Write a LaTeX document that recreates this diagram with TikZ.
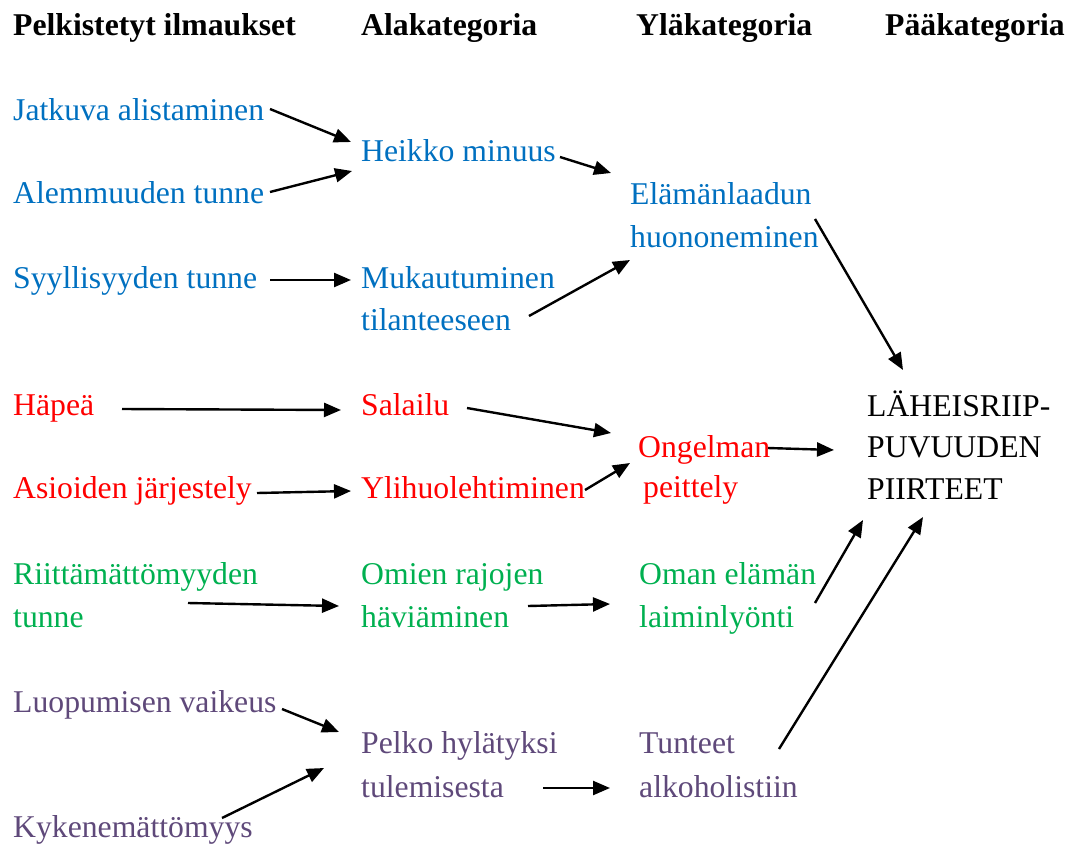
\documentclass[tikz,border=0pt]{standalone}
\usepackage{fontspec}
\setmainfont{Liberation Serif}
\usetikzlibrary{arrows.meta}
\definecolor{cblue}{HTML}{0070C0}
\definecolor{cred}{HTML}{FF0000}
\definecolor{cgreen}{HTML}{00B050}
\definecolor{cpurple}{HTML}{5F497A}
\begin{document}
\begin{tikzpicture}[x=1pt,y=-1pt,
  txt/.style={inner sep=0pt, anchor=base west, align=left,
    font=\fontsize{31.7}{43}\selectfont},
  hdr/.style={txt, font=\fontsize{31.7}{43}\selectfont\bfseries},
  blu/.style={txt, text=cblue},
  rd/.style={txt, text=cred},
  grn/.style={txt, text=cgreen},
  pur/.style={txt, text=cpurple},
  link/.style={line width=2.4pt, -{Triangle[length=17pt,width=14pt]}}]
\useasboundingbox (0,0) rectangle (1073,846);

% column headings
\node[hdr] (h1) at (13,35) {Pelkistetyt ilmaukset};
\node[hdr] (h2) at (361,35) {Alakategoria};
\node[hdr] (h3) at (636,35) {Yläkategoria};
\node[hdr] (h4) at (885,35) {Pääkategoria};

% simplified expressions (multi-line nodes are placed by their last baseline)
\node[blu] (jatkuva) at (13,120) {Jatkuva alistaminen};
\node[blu] (alemm) at (13,203) {Alemmuuden tunne};
\node[blu] (syyll) at (13,288) {Syyllisyyden tunne};
\node[rd] (hapea) at (13,415) {Häpeä};
\node[rd] (asioid) at (13,498) {Asioiden järjestely};
\node[grn] (riitt) at (13,627) {Riittämättömyyden\\tunne};
\node[pur] (luop) at (13,712) {Luopumisen vaikeus};
\node[pur] (kyken) at (13,837) {Kykenemättömyys};

% subcategories
\node[blu] (heikko) at (361,161) {Heikko minuus};
\node[blu, font=\fontsize{31.7}{42}\selectfont] (mukaut) at (361,330) {Mukautuminen\\tilanteeseen};
\node[rd] (salailu) at (361,415) {Salailu};
\node[rd] (ylihuol) at (361,498) {Ylihuolehtiminen};
\node[grn] (omien) at (361,627) {Omien rajojen\\häviäminen};
\node[pur, font=\fontsize{31.7}{44}\selectfont] (pelko) at (361,797) {Pelko hylätyksi\\tulemisesta};

% upper categories
\node[blu] (elaman) at (630,247) {Elämänlaadun\\huononeminen};
\node[rd, font=\fontsize{31.7}{40}\selectfont] (ongelman) at (638,497) {Ongelman\\\hspace{5pt}peittely};
\node[grn] (oman) at (639,627) {Oman elämän\\laiminlyönti};
\node[pur, font=\fontsize{31.7}{44}\selectfont] (tunteet) at (639,797) {Tunteet\\alkoholistiin};

% main category
\node[txt, font=\fontsize{31.7}{41.5}\selectfont] (paa) at (867,499) {LÄHEISRIIP-\\PUVUUDEN\\PIIRTEET};

% connector end points
\coordinate (jatkuva-o) at (270,109);  \coordinate (heikko-a) at (351,142);
\coordinate (alemm-o) at (270,192);    \coordinate (heikko-b) at (352,171);
\coordinate (syyll-o) at (270,280);    \coordinate (mukaut-i) at (351,280);
\coordinate (heikko-o) at (560,157);   \coordinate (elaman-a) at (611,173);
\coordinate (mukaut-o) at (529,316);   \coordinate (elaman-b) at (630,260);
\coordinate (elaman-o) at (815,219);   \coordinate (paa-a) at (903,370);
\coordinate (hapea-o) at (122,409);    \coordinate (salailu-i) at (341,410);
\coordinate (salailu-o) at (467,408);  \coordinate (ongelman-a) at (611,433);
\coordinate (asioid-o) at (257,493);   \coordinate (ylihuol-i) at (351,491);
\coordinate (ylihuol-o) at (585,490);  \coordinate (ongelman-b) at (630,463);
\coordinate (ongelman-o) at (768,448); \coordinate (paa-b) at (834,450);
\coordinate (riitt-o) at (188,603);    \coordinate (omien-i) at (339,606);
\coordinate (omien-o) at (528,606);    \coordinate (oman-i) at (610,604);
\coordinate (oman-o) at (815,603);     \coordinate (paa-c) at (863,520);
\coordinate (luop-o) at (282,709);     \coordinate (pelko-a) at (339,732);
\coordinate (kyken-o) at (222,818);    \coordinate (pelko-b) at (324,768);
\coordinate (pelko-o) at (543,788);    \coordinate (tunteet-i) at (610,788);
\coordinate (tunteet-o) at (779,749);  \coordinate (paa-d) at (923,517);

% connectors
\draw[link] (jatkuva-o) -- (heikko-a);
\draw[link] (alemm-o) -- (heikko-b);
\draw[link] (syyll-o) -- (mukaut-i);
\draw[link] (heikko-o) -- (elaman-a);
\draw[link] (mukaut-o) -- (elaman-b);
\draw[link] (elaman-o) -- (paa-a);
\draw[link] (hapea-o) -- (salailu-i);
\draw[link] (salailu-o) -- (ongelman-a);
\draw[link] (asioid-o) -- (ylihuol-i);
\draw[link] (ylihuol-o) -- (ongelman-b);
\draw[link] (ongelman-o) -- (paa-b);
\draw[link] (riitt-o) -- (omien-i);
\draw[link] (omien-o) -- (oman-i);
\draw[link] (oman-o) -- (paa-c);
\draw[link] (luop-o) -- (pelko-a);
\draw[link] (kyken-o) -- (pelko-b);
\draw[link] (pelko-o) -- (tunteet-i);
\draw[link] (tunteet-o) -- (paa-d);
\end{tikzpicture}
\end{document}
